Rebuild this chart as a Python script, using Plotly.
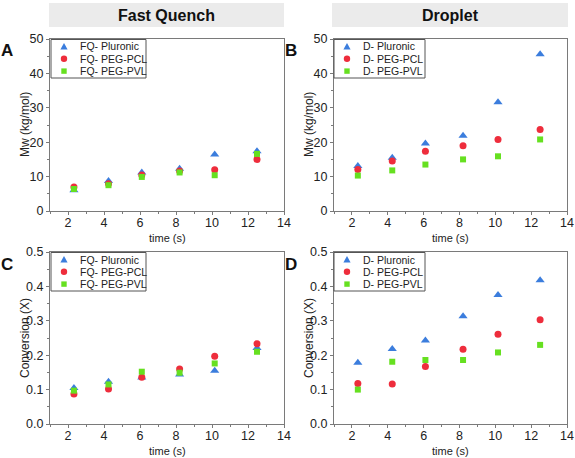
import plotly.graph_objects as go

W, H = 575, 458

time_s = [2.33, 4.25, 6.1, 8.2, 10.15, 12.5]

fq_mw_pluronic = [6.0, 8.7, 11.2, 12.3, 16.4, 17.4]
fq_mw_pcl = [7.0, 7.9, 10.5, 11.6, 12.0, 15.0]
fq_mw_pvl = [6.4, 7.5, 9.9, 11.2, 10.4, 16.6]

d_mw_pluronic = [13.1, 15.5, 19.6, 21.9, 31.6, 45.6]
d_mw_pcl = [12.1, 14.5, 17.4, 19.0, 20.8, 23.7]
d_mw_pvl = [10.3, 11.8, 13.5, 15.0, 15.9, 20.8]

fq_x_pluronic = [0.105, 0.123, 0.135, 0.144, 0.155, 0.221]
fq_x_pcl = [0.087, 0.102, 0.136, 0.160, 0.197, 0.233]
fq_x_pvl = [0.097, 0.115, 0.152, 0.149, 0.176, 0.210]

d_x_pluronic = [0.178, 0.218, 0.243, 0.313, 0.375, 0.418]
d_x_pcl = [0.118, 0.116, 0.167, 0.217, 0.261, 0.303]
d_x_pvl = [0.100, 0.181, 0.186, 0.186, 0.208, 0.230]

panel_titles = ["Fast Quench", "Droplet"]
panel_letters = ["A", "B", "C", "D"]
series_names_fq = ["FQ- Pluronic", "FQ- PEG-PCL", "FQ- PEG-PVL"]
series_names_d = ["D- Pluronic", "D- PEG-PCL", "D- PEG-PVL"]

BLUE = "#3b7ddd"
RED = "#ee2d3c"
GREEN = "#66e020"
styles = [
    dict(symbol="triangle-up", color=BLUE, size=8),
    dict(symbol="circle", color=RED, size=7),
    dict(symbol="square", color=GREEN, size=6),
]
FONT = "Arial, Liberation Sans, sans-serif"

# pixel layout
colx = [(50, 284), (334, 567)]
rowy = [(39, 211), (252, 424)]
legend_box = [(51, 146), (334, 425)]


def px_x(p):
    return p / W


def px_y(p):
    return 1 - p / H


fig = go.Figure()

panels = [
    (fq_mw_pluronic, fq_mw_pcl, fq_mw_pvl, series_names_fq, 0, 0),
    (d_mw_pluronic, d_mw_pcl, d_mw_pvl, series_names_d, 1, 0),
    (fq_x_pluronic, fq_x_pcl, fq_x_pvl, series_names_fq, 0, 1),
    (d_x_pluronic, d_x_pcl, d_x_pvl, series_names_d, 1, 1),
]

axis_common = dict(
    showline=True, linecolor="#7a7a7a", linewidth=1, mirror=True,
    ticks="outside", ticklen=3, tickcolor="#7a7a7a", showgrid=False,
    zeroline=False, automargin=False,
    tickfont=dict(family=FONT, size=12.5, color="#222"),
)


def label(x, y, text, size, color="#222", xanchor="center", angle=0):
    fig.add_annotation(x=px_x(x), y=px_y(y), xref="paper", yref="paper",
                       xanchor=xanchor, yanchor="middle", text=text, showarrow=False,
                       textangle=angle, font=dict(family=FONT, size=size, color=color))


def legend_symbol(kind, cx, cy, color):
    if kind == "triangle-up":
        s = 3.6
        path = (f"M {px_x(cx)},{px_y(cy - s)} L {px_x(cx - s)},{px_y(cy + s * 0.8)} "
                f"L {px_x(cx + s)},{px_y(cy + s * 0.8)} Z")
        fig.add_shape(type="path", xref="paper", yref="paper", path=path,
                      fillcolor=color, line=dict(width=0), layer="above")
    elif kind == "circle":
        r = 3.2
        fig.add_shape(type="circle", xref="paper", yref="paper",
                      x0=px_x(cx - r), x1=px_x(cx + r), y0=px_y(cy + r), y1=px_y(cy - r),
                      fillcolor=color, line=dict(width=0), layer="above")
    else:
        h = 2.7
        fig.add_shape(type="rect", xref="paper", yref="paper",
                      x0=px_x(cx - h), x1=px_x(cx + h), y0=px_y(cy + h), y1=px_y(cy - h),
                      fillcolor=color, line=dict(width=0), layer="above")


for i, (s1, s2, s3, names, c, r) in enumerate(panels):
    k = i + 1
    xa = "x" if k == 1 else f"x{k}"
    ya = "y" if k == 1 else f"y{k}"
    for vals, nm, st in zip([s1, s2, s3], names, styles):
        fig.add_trace(go.Scatter(
            x=time_s, y=vals, mode="markers", name=nm,
            marker=dict(symbol=st["symbol"], color=st["color"], size=st["size"], line=dict(width=0)),
            xaxis=xa, yaxis=ya, showlegend=False,
        ))
    x0, x1 = colx[c]
    y0, y1 = rowy[r]
    xkey = "xaxis" if k == 1 else f"xaxis{k}"
    ykey = "yaxis" if k == 1 else f"yaxis{k}"
    fig.update_layout(**{
        xkey: dict(axis_common, domain=[px_x(x0), px_x(x1)], range=[1, 14], dtick=2, tick0=0,
                   anchor=ya, ticklabelstandoff=-3,
                   minor=dict(ticks="outside", ticklen=2, dtick=1, tick0=0, tickcolor="#7a7a7a")),
        ykey: dict(axis_common, domain=[px_y(y1), px_y(y0)],
                   range=[0, 50] if r == 0 else [0, 0.5],
                   dtick=10 if r == 0 else 0.1, tick0=0,
                   tickformat="d" if r == 0 else ".1f",
                   anchor=xa,
                   minor=dict(ticks="outside", ticklen=2, dtick=5 if r == 0 else 0.05, tick0=0, tickcolor="#7a7a7a")),
    })
    # legend (frame, symbols, labels)
    lx0, lx1 = legend_box[c]
    fig.add_shape(type="rect", xref="paper", yref="paper",
                  x0=px_x(lx0), x1=px_x(lx1), y0=px_y(y0 + 39), y1=px_y(y0 + 0.5),
                  fillcolor="white", line=dict(color="#555", width=1), layer="above")
    for j, (nm, st) in enumerate(zip(names, styles)):
        cy = y0 + 7.5 + 12.3 * j
        legend_symbol(st["symbol"], lx0 + 13, cy, st["color"])
        label(lx0 + 27, cy, nm, 10.5, xanchor="left")
    # axis titles
    label((x0 + x1) / 2, y1 + 27, "time (s)", 11)
    label(x0 - 25, (y0 + y1) / 2, "Mw (kg/mol)" if r == 0 else "Conversion (X)", 12, angle=-90)
    # panel letters
    label(x0 - 43, y0 + 12, f"<b>{panel_letters[i]}</b>", 17, color="#111")

# headers
hdr = [(49, 284), (332, 568)]
for (hx0, hx1), t in zip(hdr, panel_titles):
    fig.add_shape(type="rect", xref="paper", yref="paper",
                  x0=px_x(hx0), x1=px_x(hx1), y0=px_y(27), y1=px_y(3),
                  fillcolor="#ebebeb", line=dict(width=0), layer="below")
    label((hx0 + hx1) / 2, 15, f"<b>{t}</b>", 16, color="#111")

fig.update_layout(
    template="none",
    width=W, height=H, margin=dict(l=0, r=0, t=0, b=0, autoexpand=False),
    paper_bgcolor="white", plot_bgcolor="white",
)

fig.write_html("out.html", config={"displayModeBar": False},
               post_script="document.body.style.margin='0';document.body.style.overflow='hidden';")
